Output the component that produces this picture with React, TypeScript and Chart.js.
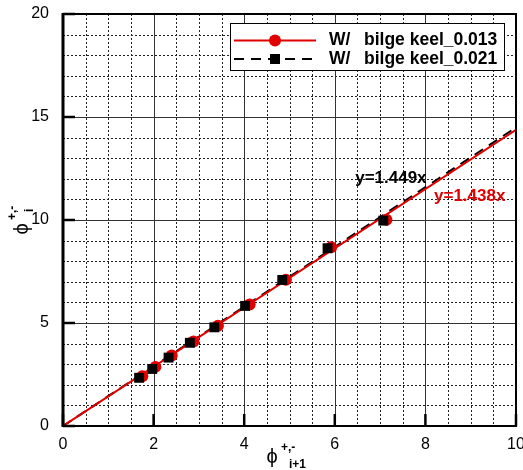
import React, { useEffect, useRef } from "react";
import { Chart, registerables } from "chart.js";

Chart.register(...registerables);

const seriesLabels = ["bilge keel_0.013", "bilge keel_0.021"];
const labelPrefix = "W/";
const x013 = [1.75, 2.04, 2.4, 2.88, 3.42, 4.12, 4.92, 5.92, 7.14];
const y013 = [2.42, 2.87, 3.42, 4.1, 4.87, 5.9, 7.1, 8.68, 10.01];
const x021 = [1.68, 1.97, 2.33, 2.8, 3.34, 4.02, 4.84, 5.84, 7.07];
const y021 = [2.34, 2.77, 3.32, 4.04, 4.79, 5.83, 7.09, 8.63, 9.97];
const slope013 = 1.438;
const slope021 = 1.449;
const fitX = [0, 10];
const xRange = [0, 10];
const yRange = [0, 20];
const xMajorStep = 2;
const yMajorStep = 5;
const xMinorStep = 0.5;
const yMinorStep = 1;
const fitLabel013 = "y=1.438x";
const fitLabel021 = "y=1.449x";

const RED = "#e00000";
const FONT = "'Liberation Sans', Arial, Helvetica, sans-serif";
const PHI = "ϕ";

const range = (a: number, b: number, s: number) => {
  const out: number[] = [];
  for (let i = 0; a + i * s <= b + 1e-9; i++) out.push(+(a + i * s).toFixed(6));
  return out;
};

const gridPlugin = {
  id: "customGrid",
  beforeDatasetsDraw(chart: any) {
    const { ctx, chartArea: a, scales } = chart;
    const xs = scales.x;
    const ys = scales.y;
    ctx.save();
    ctx.lineWidth = 1;
    ctx.strokeStyle = "#222";
    ctx.setLineDash([2, 2]);
    range(xRange[0], xRange[1], xMinorStep).forEach((v) => {
      if (Math.abs(v / xMajorStep - Math.round(v / xMajorStep)) < 1e-6) return;
      const px = Math.round(xs.getPixelForValue(v)) + 0.5;
      ctx.beginPath();
      ctx.moveTo(px, a.top);
      ctx.lineTo(px, a.bottom);
      ctx.stroke();
    });
    range(yRange[0], yRange[1], yMinorStep).forEach((v) => {
      if (Math.abs(v / yMajorStep - Math.round(v / yMajorStep)) < 1e-6) return;
      const py = Math.round(ys.getPixelForValue(v)) + 0.5;
      ctx.beginPath();
      ctx.moveTo(a.left, py);
      ctx.lineTo(a.right, py);
      ctx.stroke();
    });
    ctx.setLineDash([]);
    ctx.strokeStyle = "#333";
    range(xRange[0], xRange[1], xMajorStep).forEach((v) => {
      const px = Math.round(xs.getPixelForValue(v)) + 0.5;
      ctx.beginPath();
      ctx.moveTo(px, a.top);
      ctx.lineTo(px, a.bottom);
      ctx.stroke();
    });
    range(yRange[0], yRange[1], yMajorStep).forEach((v) => {
      const py = Math.round(ys.getPixelForValue(v)) + 0.5;
      ctx.beginPath();
      ctx.moveTo(a.left, py);
      ctx.lineTo(a.right, py);
      ctx.stroke();
    });
    ctx.restore();
  },
  afterDatasetsDraw(chart: any) {
    const { ctx, chartArea: a, scales } = chart;
    const xs = scales.x;
    const ys = scales.y;
    ctx.save();
    ctx.setLineDash([]);
    ctx.strokeStyle = "#000";
    ctx.lineWidth = 2;
    ctx.strokeRect(a.left, a.top, a.right - a.left, a.bottom - a.top);
    ctx.lineWidth = 3;
    ctx.beginPath();
    ctx.moveTo(a.left, a.top - 1);
    ctx.lineTo(a.left, a.bottom + 1);
    ctx.stroke();
    ctx.lineWidth = 2.5;
    range(yRange[0], yRange[1], yMajorStep).forEach((v) => {
      const py = ys.getPixelForValue(v);
      ctx.beginPath();
      ctx.moveTo(a.left, py);
      ctx.lineTo(a.left + 12, py);
      ctx.stroke();
    });
    range(xRange[0], xRange[1], xMajorStep).forEach((v) => {
      const px = xs.getPixelForValue(v);
      ctx.beginPath();
      ctx.moveTo(px, a.bottom);
      ctx.lineTo(px, a.bottom - 12);
      ctx.stroke();
    });
    ctx.restore();
  },
  afterDraw(chart: any) {
    const { ctx, chartArea: a, scales } = chart;
    const xs = scales.x;
    const ys = scales.y;
    ctx.save();
    ctx.setLineDash([]);

    ctx.font = `bold 17px ${FONT}`;
    ctx.textAlign = "left";
    ctx.textBaseline = "middle";
    ctx.fillStyle = "#000";
    ctx.fillText(fitLabel021, xs.getPixelForValue(6.45), ys.getPixelForValue(12.04));
    ctx.fillStyle = RED;
    ctx.fillText(fitLabel013, xs.getPixelForValue(8.19), ys.getPixelForValue(11.17));

    // legend
    const lx = a.left + 167;
    const ly = a.top + 9;
    const lw = 274;
    const lh = 47;
    ctx.fillStyle = "#fff";
    ctx.fillRect(lx, ly, lw, lh);
    ctx.strokeStyle = "#000";
    ctx.lineWidth = 1;
    ctx.strokeRect(lx + 0.5, ly + 0.5, lw, lh);
    const r1 = ly + 17.5;
    const r2 = ly + 36;
    ctx.strokeStyle = RED;
    ctx.lineWidth = 2;
    ctx.beginPath();
    ctx.moveTo(lx + 4, r1);
    ctx.lineTo(lx + 86, r1);
    ctx.stroke();
    ctx.fillStyle = RED;
    ctx.beginPath();
    ctx.arc(lx + 45, r1, 6, 0, Math.PI * 2);
    ctx.fill();
    ctx.strokeStyle = "#000";
    ctx.setLineDash([10, 7]);
    ctx.beginPath();
    ctx.moveTo(lx + 4, r2);
    ctx.lineTo(lx + 86, r2);
    ctx.stroke();
    ctx.setLineDash([]);
    ctx.fillStyle = "#000";
    ctx.fillRect(lx + 45 - 5, r2 - 5, 10, 10);
    ctx.font = `bold 17.5px ${FONT}`;
    ctx.textBaseline = "middle";
    ctx.fillText(labelPrefix, lx + 99, r1);
    ctx.fillText(seriesLabels[0], lx + 134, r1);
    ctx.fillText(labelPrefix, lx + 99, r2);
    ctx.fillText(seriesLabels[1], lx + 134, r2);

    // x axis title
    ctx.fillStyle = "#000";
    ctx.textAlign = "center";
    ctx.font = `20px ${FONT}`;
    const tx = a.left + 209;
    const ty = a.bottom + 31;
    ctx.fillText(PHI, tx, ty);
    ctx.textAlign = "left";
    ctx.font = `bold 12px ${FONT}`;
    ctx.fillText("+,-", tx + 9, ty - 9);
    ctx.fillText("i+1", tx + 17, ty + 8);

    // y axis title
    ctx.translate(22, 229);
    ctx.rotate(-Math.PI / 2);
    ctx.textAlign = "center";
    ctx.font = `20px ${FONT}`;
    ctx.fillText(PHI, 0, 0);
    ctx.textAlign = "left";
    ctx.font = `bold 12px ${FONT}`;
    ctx.fillText("+,-", 9, -9);
    ctx.fillText("i", 17, 8);
    ctx.restore();
  },
};

export default function App() {
  const ref = useRef<HTMLCanvasElement>(null);
  useEffect(() => {
    if (!ref.current) return;
    Chart.defaults.font.family = FONT;
    const chart = new Chart(ref.current, {
      type: "scatter",
      data: {
        datasets: [
          {
            label: seriesLabels[1],
            data: x021.map((x, i) => ({ x, y: y021[i] })),
            backgroundColor: "#000",
            borderColor: "#000",
            pointStyle: "rect",
            pointRadius: 7,
            borderWidth: 0,
            showLine: false,
            order: 0,
          },
          {
            label: seriesLabels[0],
            data: x013.map((x, i) => ({ x, y: y013[i] })),
            backgroundColor: RED,
            borderColor: RED,
            pointStyle: "circle",
            pointRadius: 6,
            borderWidth: 0,
            showLine: false,
            order: 1,
          },
          {
            label: "fit013",
            data: fitX.map((x) => ({ x, y: slope013 * x })),
            showLine: true,
            borderColor: RED,
            borderWidth: 2,
            pointRadius: 0,
            order: 2,
          },
          {
            label: "fit021",
            data: fitX.map((x) => ({ x, y: slope021 * x })),
            showLine: true,
            borderColor: "#000",
            borderWidth: 2,
            borderDash: [10, 7],
            pointRadius: 0,
            order: 3,
          },
        ],
      },
      options: {
        responsive: false,
        animation: false,
        events: [],
        layout: { padding: { left: 0, top: 14, right: 6, bottom: 0 } },
        plugins: { legend: { display: false }, tooltip: { enabled: false } },
        scales: {
          x: {
            type: "linear",
            min: xRange[0],
            max: xRange[1],
            grid: { display: false },
            border: { display: false },
            ticks: {
              stepSize: xMajorStep,
              color: "#000",
              font: { size: 16 },
              padding: 1,
              maxRotation: 0,
              autoSkip: false,
            },
            afterFit(scale: any) {
              scale.height = 44;
              scale.paddingLeft = 0;
              scale.paddingRight = 0;
            },
          },
          y: {
            type: "linear",
            min: yRange[0],
            max: yRange[1],
            grid: { display: false },
            border: { display: false },
            ticks: {
              stepSize: yMajorStep,
              color: "#000",
              font: { size: 16 },
              padding: 6,
              autoSkip: false,
            },
            afterFit(scale: any) {
              scale.width = 63;
              scale.paddingTop = 0;
              scale.paddingBottom = 0;
            },
          },
        },
      },
      plugins: [gridPlugin],
    });
    return () => chart.destroy();
  }, []);
  return (
    <div style={{ position: "fixed", left: 0, top: 0, width: 523, height: 470, background: "#fff" }}>
      <canvas ref={ref} width={523} height={470} style={{ display: "block" }} />
    </div>
  );
}
